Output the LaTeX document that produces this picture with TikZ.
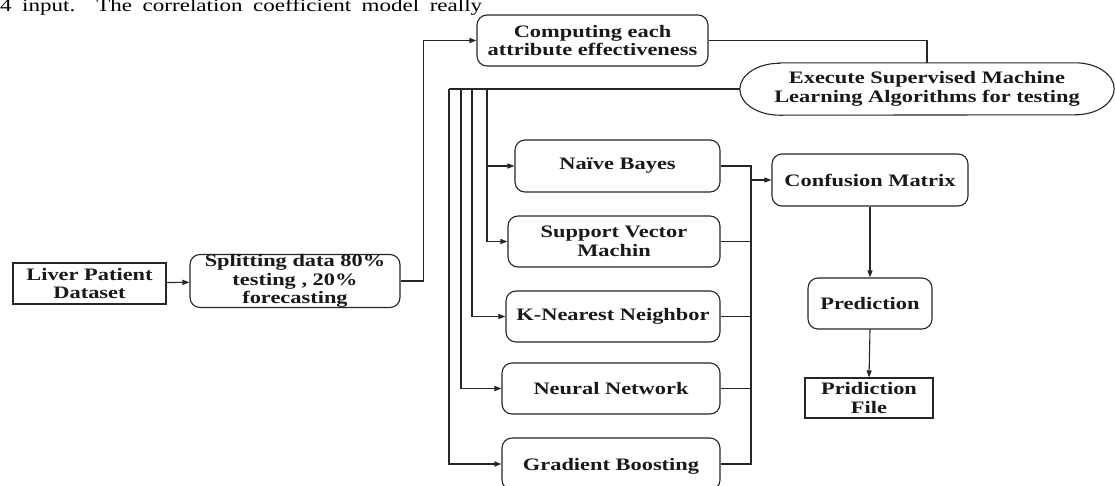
\documentclass[tikz,border=0pt]{standalone}
\usepackage{fontspec}
\setmainfont{Liberation Serif}
\newfontfamily\boxfont[FakeStretch=1.28]{Liberation Serif}
\usetikzlibrary{arrows.meta}
\begin{document}
\begin{tikzpicture}[x=1pt,y=-1pt,
  line/.style={draw=black!85,line width=1.1pt},
  arr/.style={line,-{Triangle[length=7pt,width=5pt]}},
  lbl/.style={font=\boxfont\bfseries\fontsize{17.5}{18.5}\selectfont,align=center,inner sep=0pt,text=black!90},
  rbox/.style={lbl,line,rounded corners=10pt},
  sbox/.style={lbl,line}]
\fill[white,use as bounding box] (0,0) rectangle (1115,485);
\clip (0,0) rectangle (1115,485);

% clipped line of running text at the top
\node[anchor=base west,inner sep=0pt,font=\boxfont\fontsize{18}{18}\selectfont] (toptext) at (0,11.5)
  {\hbox to 482pt{4\hskip 0pt plus 1fil input.\hskip 0pt plus 2fil The\hfil correlation\hfil coefficient\hfil model\hfil really}};

% nodes
\node[sbox,minimum width=153pt,minimum height=41pt] (liver) at (89.5,283.5) {Liver Patient\\Dataset};
\node[rbox,minimum width=210pt,minimum height=52pt] (split) at (295,281) {Splitting data 80\%\\testing , 20\%\\forecasting};
\node[rbox,minimum width=231pt,minimum height=51pt] (comp) at (592.5,40.5) {Computing each\\attribute effectiveness};
\node[lbl,minimum width=374pt,minimum height=52pt] (exec) at (927,89) {Execute Supervised Machine\\Learning Algorithms for testing};
\draw[line] ([xshift=40pt]exec.north west) -- ([xshift=-39pt]exec.north east)
  arc[start angle=-90,end angle=90,x radius=39,y radius=26]
  -- ([xshift=40pt]exec.south west)
  arc[start angle=90,end angle=270,x radius=40,y radius=26] -- cycle;

\node[rbox,minimum width=205pt,minimum height=52pt] (nb) at (617.5,166) {Naïve Bayes};
\node[rbox,minimum width=212pt,minimum height=51pt] (svm) at (614,241.5) {Support Vector\\Machin};
\node[rbox,minimum width=214pt,minimum height=51pt] (knn) at (613,316.5) {K-Nearest Neighbor};
\node[rbox,minimum width=218pt,minimum height=51pt] (nn) at (611,388.5) {Neural Network};
\node[rbox,minimum width=218pt,minimum height=52pt,text depth=0pt] (gb) at (611,464) {Gradient Boosting};

\node[rbox,minimum width=196pt,minimum height=52pt] (conf) at (870,180) {Confusion Matrix};
\node[rbox,minimum width=124pt,minimum height=51pt] (pred) at (870,303.5) {Prediction};
\node[sbox,minimum width=128pt,minimum height=40pt] (pfile) at (869,398) {Pridiction\\File};

% bundle coordinates
\coordinate (t1) at (487,89);
\coordinate (t2) at (472,89);
\coordinate (t3) at (461,89);
\coordinate (t4) at (449,89);
\coordinate (c1) at (751,166);
\coordinate (c5) at (751,464);

% connectors
\draw[arr] (liver) -- (split);
\draw[arr] (split.east) -- ++(23,0) |- (comp.west);
\draw[line] (comp.east) -| (exec.north);
\draw[line] (exec.west) -- (t4);
\draw[arr] (t1) |- (nb.west);
\draw[arr] (t1) |- (svm.west);
\draw[arr] (t2) |- (knn.west);
\draw[arr] (t3) |- (nn.west);
\draw[arr] (t4) |- (gb.west);

\draw[line] (nb.east) -- (c1) -- (c5) -- (gb.east);
\draw[line] (svm.east) -- (svm.east -| c1);
\draw[line] (knn.east) -- (knn.east -| c1);
\draw[line] (nn.east) -- (nn.east -| c1);
\draw[arr] (conf.west -| c1) -- (conf.west);

\draw[arr] (conf.south) -- (pred.north);
\draw[arr] (pred.south) -- (pfile.north);
\end{tikzpicture}
\end{document}
